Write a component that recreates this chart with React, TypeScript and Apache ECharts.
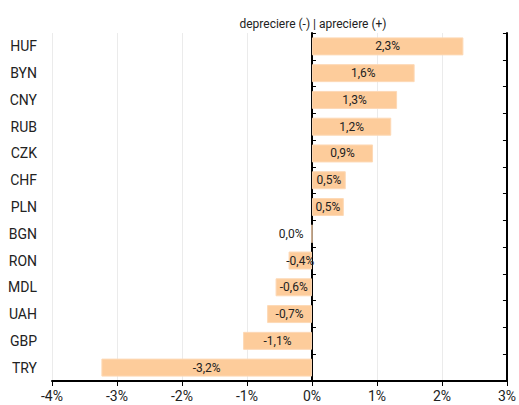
import React, { useEffect, useRef } from "react";
import * as echarts from "echarts";

const categories = ["HUF", "BYN", "CNY", "RUB", "CZK", "CHF", "PLN", "BGN", "RON", "MDL", "UAH", "GBP", "TRY"];
const values = [2.33, 1.58, 1.31, 1.22, 0.94, 0.52, 0.49, 0.0, -0.36, -0.56, -0.69, -1.06, -3.24];
const title = "depreciere (-) | apreciere (+)";

const fmt = (v: number) => v.toFixed(1).replace(".", ",") + "%";

export default function App() {
  const ref = useRef<HTMLDivElement>(null);
  useEffect(() => {
    document.body.style.margin = "0";
    if (!ref.current) return;
    const chart = echarts.init(ref.current, undefined, { renderer: "svg" });
    const font = "Roboto";
    chart.setOption({
      animation: false,
      textStyle: { fontFamily: font },
      title: {
        text: title,
        left: 308,
        textAlign: "center",
        top: 13,
        textStyle: { fontSize: 12, fontWeight: "normal", color: "#222", fontFamily: font },
      },
      grid: { left: 52, right: 10, top: 33, bottom: 24, containLabel: false },
      xAxis: {
        type: "value",
        min: -4,
        max: 3,
        interval: 1,
        axisLine: { show: true, lineStyle: { color: "#000", width: 2 } },
        axisTick: { show: true, length: 5, lineStyle: { color: "#000", width: 1 } },
        axisLabel: { formatter: (v: number) => v + "%", color: "#222", fontSize: 14, margin: 8, fontFamily: font },
        splitLine: { show: true, lineStyle: { color: "#ebebeb", width: 1 } },
      },
      yAxis: [
        {
          type: "category",
          data: categories,
          inverse: true,
          position: "left",
          axisLine: { show: false, onZero: false },
          axisTick: { show: false },
          axisLabel: { color: "#222", fontSize: 14, margin: 15, fontFamily: font },
        },
        {
          type: "category",
          data: categories,
          inverse: true,
          axisLine: { show: true, onZero: true, lineStyle: { color: "#000", width: 2 } },
          axisTick: { show: true, inside: false, length: 4, lineStyle: { color: "#000", width: 1 } },
          axisLabel: { show: false },
        },
        {
          type: "category",
          data: categories,
          inverse: true,
          axisLine: { show: true, onZero: true, lineStyle: { color: "#000", width: 2 } },
          axisTick: { show: true, inside: true, length: 4, lineStyle: { color: "#000", width: 1 } },
          axisLabel: { show: false },
        },
      ],
      series: [
        {
          type: "bar",
          yAxisIndex: 0,
          barWidth: 18,
          data: values.map((v) => ({
            value: v,
            label: v === 0 ? { position: "left", distance: 8 } : undefined,
          })),
          itemStyle: { color: "#fdcc9b", borderColor: "#fdd9b6", borderWidth: 1 },
          label: {
            show: true,
            position: "inside",
            color: "#222",
            fontSize: 12,
            fontFamily: font,
            formatter: (p: any) => fmt(p.value),
          },
          z: 1,
        },
      ],
    });
    return () => chart.dispose();
  }, []);
  return <div ref={ref} style={{ width: 519, height: 405 }} />;
}
